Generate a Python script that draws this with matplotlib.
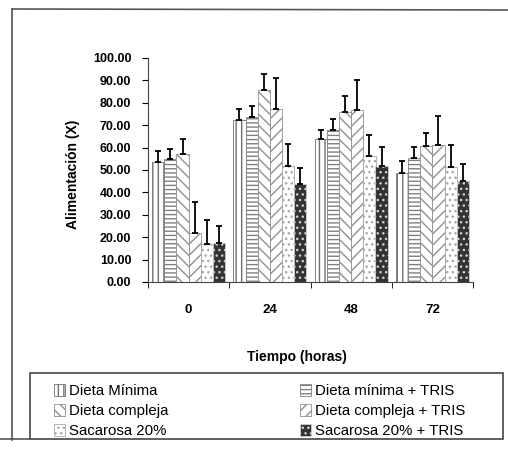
import numpy as np
import matplotlib
matplotlib.use("Agg")
import matplotlib.pyplot as plt
from matplotlib.patches import Rectangle
from matplotlib.lines import Line2D

plt.rcParams['font.family'] = ['Liberation Sans', 'DejaVu Sans']

# datos
tiempos = ["0", "24", "48", "72"]
series = ["Dieta Mínima", "Dieta mínima + TRIS", "Dieta compleja",
          "Dieta compleja + TRIS", "Sacarosa 20%", "Sacarosa 20% + TRIS"]

dieta_min = [53.7, 72.2, 63.7, 48.5]
dieta_min_tris = [54.8, 73.5, 67.9, 55.2]
dieta_comp = [57.0, 85.7, 76.0, 60.7]
dieta_comp_tris = [21.7, 77.4, 77.0, 61.2]
sacarosa = [17.1, 51.7, 56.2, 51.5]
sacarosa_tris = [17.6, 43.6, 52.0, 45.2]

err_min = [4.9, 5.2, 4.3, 5.5]
err_min_tris = [4.7, 5.1, 4.7, 5.2]
err_comp = [7.0, 7.3, 7.0, 6.0]
err_comp_tris = [13.8, 13.5, 13.0, 12.8]
err_sac = [10.7, 9.8, 9.4, 9.7]
err_sac_tris = [7.4, 7.4, 8.4, 7.5]

valores = [dieta_min, dieta_min_tris, dieta_comp, dieta_comp_tris, sacarosa, sacarosa_tris]
errores = [err_min, err_min_tris, err_comp, err_comp_tris, err_sac, err_sac_tris]

# estilos (tramas)
caras = ['white', 'white', 'white', 'white', 'white', '#333333']
bordes = ['#707070', '#808080', '#909090', '#909090', '#a8a8a8', '#d0d0d0']
tramas = ['|||', '----', '\\\\\\', '///', '...', '...']

fig = plt.figure(figsize=(5.08, 4.51), dpi=100)
ax = fig.add_axes([148/508, 1-282/451, (473-148)/508, (282-58)/451])

x = np.arange(len(tiempos))
w = 0.15
barras = []
for i in range(6):
    b = ax.bar(x + (i - 2.5)*w, valores[i], w, color=caras[i], edgecolor=bordes[i],
               hatch=tramas[i], linewidth=0.6)
    ax.errorbar(x + (i - 2.5)*w, valores[i], yerr=[np.zeros(4), errores[i]],
                fmt='none', ecolor='black', elinewidth=1.3, capsize=2.5, capthick=1.3)
    barras.append(b)

ax.set_xlim(-0.5, 3.5)
ax.set_ylim(0, 100)
ax.set_yticks(np.arange(0, 101, 10))
ax.set_yticklabels(["%.2f" % v for v in np.arange(0, 101, 10)], fontsize=9, fontweight='bold')
ax.set_xticks(x)
ax.set_xticklabels(tiempos, fontsize=9.5, fontweight='bold')
ax.set_xticks(np.arange(-0.5, 4, 1), minor=True)
ax.tick_params(axis='x', which='major', length=0, pad=16)
ax.tick_params(axis='x', which='minor', length=4, direction='out')
ax.tick_params(axis='y', length=4, direction='out', pad=8)
for s in ['top', 'right']:
    ax.spines[s].set_visible(False)
ax.spines['left'].set_color('#444444')
ax.spines['bottom'].set_color('#444444')

fig.text(73/508, 1-174/451, "Alimentación (X)", rotation=90, ha='center', va='center',
         fontsize=10, fontweight='bold')
fig.text(297/508, 1-357/451, "Tiempo (horas)", ha='center', va='center',
         fontsize=10, fontweight='bold')

# marco del grafico
fig.add_artist(Line2D([12/508, 1.0], [1-9/451, 1-10/451], color='#555555', lw=1.2))
fig.add_artist(Line2D([12/508, 12/508], [1-9/451, 1-440/451], color='#555555', lw=1.2))
fig.add_artist(Line2D([0.0, 30/508], [1-439/451, 1-439/451], color='#555555', lw=1.2))

# leyenda
fig.add_artist(Rectangle((30/508, 1-439/451), (503-30)/508, (439-373)/451,
                         fill=False, edgecolor='#444444', lw=1.2))
orden = [0, 2, 4, 1, 3, 5]
leg = fig.legend([barras[i] for i in orden], [series[i] for i in orden],
                 loc='upper left', bbox_to_anchor=(54/508, 1-384/451), ncol=2,
                 frameon=False, fontsize=10.8, handlelength=0.7, handleheight=0.8,
                 handletextpad=0.3, columnspacing=8.8, labelspacing=0.4,
                 borderpad=0, borderaxespad=0)

fig.savefig("out.png", dpi=100)
